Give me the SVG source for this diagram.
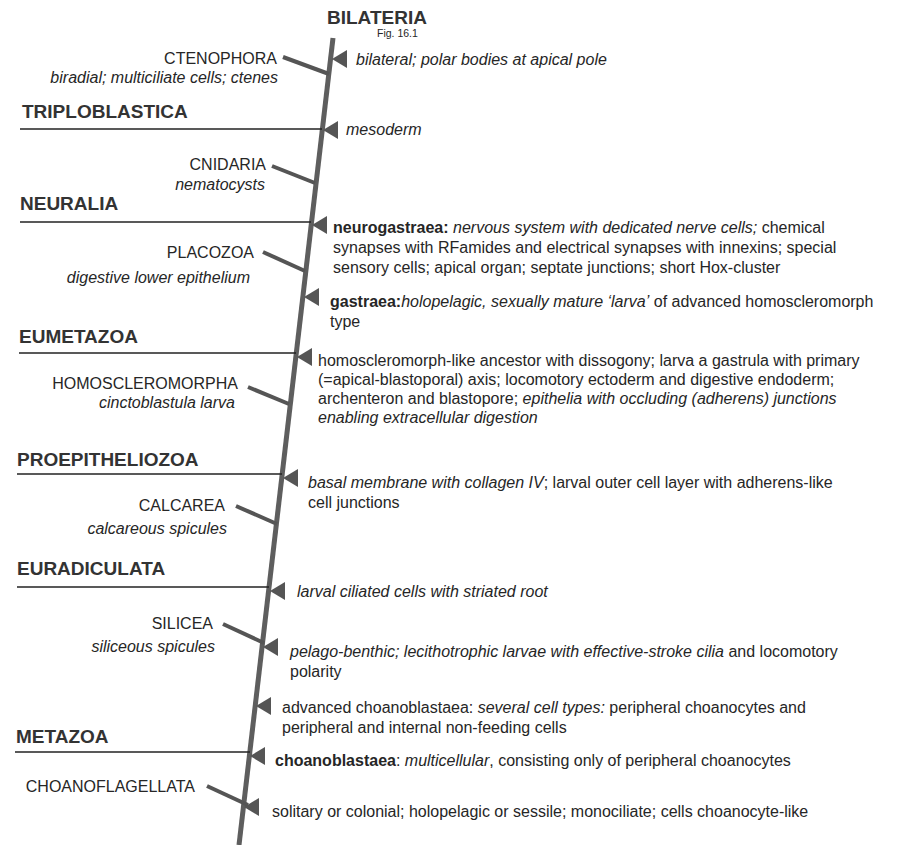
<svg xmlns="http://www.w3.org/2000/svg" width="904" height="845" viewBox="0 0 904 845">
<style>
text{font-family:"Liberation Sans",Arial,sans-serif;fill:#262626}
.clade{font-size:19px;font-weight:bold;fill:#333}
.taxon{font-size:16px;text-anchor:end}
.tdesc{font-size:16px;font-style:italic;text-anchor:end}
.d{font-size:16px}
.i{font-style:italic}
.b{font-weight:bold}
.cl{stroke:#222;stroke-width:1.6;fill:none}
.br{stroke:#555;stroke-width:4;fill:none}
.trunk{stroke:#5e5e5e;stroke-width:5;fill:none}
.ah{fill:#555}
</style>
<defs>
<path id="tri" d="M0,0 L15,-9 L15,9 Z"/>
</defs>
<rect width="904" height="845" fill="#fff"/>
<g id="title">
<text x="327" y="24" class="clade">BILATERIA</text>
<text x="377" y="37" style="font-size:10.5px">Fig. 16.1</text>
</g>
<g id="connectors">
<line class="trunk" x1="333" y1="38" x2="239" y2="845"/>
<line class="cl" x1="20" y1="129" x2="322" y2="129"/>
<line class="cl" x1="20" y1="222" x2="311" y2="222"/>
<line class="cl" x1="19" y1="353" x2="296" y2="353"/>
<line class="cl" x1="17" y1="474" x2="282" y2="474"/>
<line class="cl" x1="17" y1="587" x2="269" y2="587"/>
<line class="cl" x1="15" y1="752" x2="250" y2="752"/>
<line class="br" x1="283" y1="57" x2="329" y2="74"/>
<line class="br" x1="272" y1="166" x2="315" y2="183"/>
<line class="br" x1="263" y1="252" x2="305" y2="271"/>
<line class="br" x1="248" y1="387" x2="289" y2="404"/>
<line class="br" x1="236" y1="506" x2="277" y2="524"/>
<line class="br" x1="223" y1="624" x2="264" y2="643"/>
<line class="br" x1="207" y1="786" x2="248" y2="805"/>
<use href="#tri" class="ah" x="332" y="59"/>
<use href="#tri" class="ah" x="323" y="130"/>
<use href="#tri" class="ah" x="312" y="225"/>
<use href="#tri" class="ah" x="304" y="297"/>
<use href="#tri" class="ah" x="297" y="357"/>
<use href="#tri" class="ah" x="283" y="478"/>
<use href="#tri" class="ah" x="270" y="591"/>
<use href="#tri" class="ah" x="263" y="647"/>
<use href="#tri" class="ah" x="256" y="706"/>
<use href="#tri" class="ah" x="250" y="756"/>
<use href="#tri" class="ah" x="244" y="807"/>
</g>
<g id="clade-triploblastica"><text x="22" y="118" class="clade">TRIPLOBLASTICA</text></g>
<g id="clade-neuralia"><text x="20" y="210" class="clade">NEURALIA</text></g>
<g id="clade-eumetazoa"><text x="19" y="343" class="clade">EUMETAZOA</text></g>
<g id="clade-proepitheliozoa"><text x="17" y="466" class="clade">PROEPITHELIOZOA</text></g>
<g id="clade-euradiculata"><text x="17" y="575" class="clade">EURADICULATA</text></g>
<g id="clade-metazoa"><text x="16" y="743" class="clade">METAZOA</text></g>
<g id="taxon-ctenophora"><text x="277" y="64" class="taxon">CTENOPHORA</text><text x="278" y="83" class="tdesc">biradial; multiciliate cells; ctenes</text></g>
<g id="taxon-cnidaria"><text x="266" y="170" class="taxon">CNIDARIA</text><text x="265" y="190" class="tdesc">nematocysts</text></g>
<g id="taxon-placozoa"><text x="254" y="258" class="taxon">PLACOZOA</text><text x="250" y="283" class="tdesc">digestive lower epithelium</text></g>
<g id="taxon-homoscleromorpha"><text x="238" y="389" class="taxon">HOMOSCLEROMORPHA</text><text x="235" y="408" class="tdesc">cinctoblastula larva</text></g>
<g id="taxon-calcarea"><text x="225" y="511" class="taxon">CALCAREA</text><text x="227" y="534" class="tdesc">calcareous spicules</text></g>
<g id="taxon-silicea"><text x="213" y="629" class="taxon">SILICEA</text><text x="215" y="652" class="tdesc">siliceous spicules</text></g>
<g id="taxon-choanoflagellata"><text x="195" y="792" class="taxon">CHOANOFLAGELLATA</text></g>
<g id="apo-bilateral"><text x="356" y="65" class="d i">bilateral; polar bodies at apical pole</text></g>
<g id="apo-mesoderm"><text x="346" y="135" class="d i">mesoderm</text></g>
<g id="apo-neurogastraea"><text x="333" y="233" class="d"><tspan class="b">neurogastraea:</tspan> <tspan class="i">nervous system with dedicated nerve cells;</tspan> chemical</text>
<text x="333" y="253" class="d">synapses with RFamides and electrical synapses with innexins; special</text>
<text x="333" y="273" class="d">sensory cells; apical organ; septate junctions; short Hox-cluster</text></g>
<g id="apo-gastraea"><text x="330" y="307" class="d"><tspan class="b">gastraea:</tspan><tspan class="i">holopelagic, sexually mature ‘larva’</tspan> of advanced homoscleromorph</text>
<text x="330" y="327" class="d">type</text></g>
<g id="apo-eumetazoa"><text x="318" y="366" class="d">homoscleromorph-like ancestor with dissogony; larva a gastrula with primary</text>
<text x="318" y="385" class="d">(=apical-blastoporal) axis; locomotory ectoderm and digestive endoderm;</text>
<text x="318" y="404" class="d">archenteron and blastopore; <tspan class="i">epithelia with occluding (adherens) junctions</tspan></text>
<text x="318" y="423" class="d i">enabling extracellular digestion</text></g>
<g id="apo-proepitheliozoa"><text x="308" y="488" class="d"><tspan class="i">basal membrane with collagen IV</tspan>; larval outer cell layer with adherens-like</text>
<text x="308" y="508" class="d">cell junctions</text></g>
<g id="apo-euradiculata"><text x="297" y="597" class="d i">larval ciliated cells with striated root</text></g>
<g id="apo-silicea"><text x="290" y="657" class="d"><tspan class="i">pelago-benthic; lecithotrophic larvae with effective-stroke cilia</tspan> and locomotory</text>
<text x="290" y="677" class="d">polarity</text></g>
<g id="apo-advanced"><text x="282" y="713" class="d">advanced choanoblastaea: <tspan class="i">several cell types:</tspan> peripheral choanocytes and</text>
<text x="282" y="733" class="d">peripheral and internal non-feeding cells</text></g>
<g id="apo-metazoa"><text x="275" y="766" class="d"><tspan class="b">choanoblastaea</tspan>: <tspan class="i">multicellular</tspan>, consisting only of peripheral choanocytes</text></g>
<g id="apo-choanoflagellata"><text x="272" y="817" class="d">solitary or colonial; holopelagic or sessile; monociliate; cells choanocyte-like</text></g>
</svg>
